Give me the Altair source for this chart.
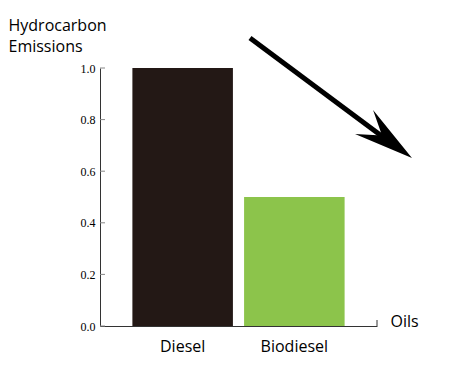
import altair as alt
import pandas as pd

oils = ["Diesel", "Biodiesel"]
emissions = [1.0, 0.5]
bar_colors = ["#231815", "#8CC44B"]
y_ticks = [0.0, 0.2, 0.4, 0.6, 0.8, 1.0]

W, H = 277, 258

bars_df = pd.DataFrame({"oil": oils, "value": emissions})
ticks_df = pd.DataFrame({"t": y_ticks})

bars = alt.Chart(bars_df).mark_bar().encode(
    x=alt.X("oil:N", sort=oils,
            scale=alt.Scale(paddingInner=0.1, paddingOuter=0.29),
            axis=alt.Axis(title="Oils", titleAngle=0, titleAlign="left",
                          titleBaseline="middle", titleX=W + 13, titleY=-5,
                          titleFont="Open Sans", titleFontSize=16, titleFontWeight="normal",
                          titleColor="black",
                          labelAngle=0, labelFont="Open Sans", labelFontSize=16,
                          labelColor="black", labelPadding=12, ticks=False,
                          domainColor="#333333", domainWidth=1)),
    y=alt.Y("value:Q", scale=alt.Scale(domain=[0, 1]),
            axis=alt.Axis(values=y_ticks, format=".1f", ticks=False, grid=False,
                          labelFont="Liberation Serif", labelFontSize=12,
                          labelFontWeight="normal",
                          labelColor="black", labelPadding=5,
                          domainColor="#333333", domainWidth=1,
                          title=["Hydrocarbon", "Emissions"], titleAngle=0,
                          titleAlign="left", titleBaseline="alphabetic",
                          titleX=-92, titleY=-38, titleLineHeight=21,
                          titleFont="Open Sans", titleFontSize=16,
                          titleFontWeight="normal", titleColor="black")),
    color=alt.Color("oil:N", scale=alt.Scale(domain=oils, range=bar_colors), legend=None),
)

inner_ticks = alt.Chart(ticks_df).mark_rule(color="#888888", strokeWidth=1).encode(
    y=alt.Y("t:Q", scale=alt.Scale(domain=[0, 1])),
    x=alt.value(0), x2=alt.value(5),
)

end_tick = alt.Chart(ticks_df.head(1)).mark_rule(color="#333333", strokeWidth=1).encode(
    x=alt.value(W), y=alt.value(H), y2=alt.value(H - 6),
)

arrow_line = alt.Chart(ticks_df.head(1)).mark_rule(color="black", strokeWidth=5).encode(
    x=alt.value(150), y=alt.value(-30), x2=alt.value(287), y2=alt.value(72),
)

arrow_head = alt.Chart(ticks_df.head(1)).mark_point(
    shape="M0,-1 L0.5,1 L0,0.25 L-0.5,1 Z", filled=True, color="black",
    opacity=1, size=3600, angle=127,
).encode(x=alt.value(288), y=alt.value(72))

chart = alt.layer(bars, inner_ticks, end_tick, arrow_line, arrow_head).properties(
    width=W, height=H,
    background="white",
    autosize=alt.AutoSizeParams(type="none"),
    padding={"left": 100, "top": 68, "right": 80, "bottom": 51},
).configure_view(strokeWidth=0, stroke="transparent")

chart.save("out.html", embed_options={"renderer": "svg", "actions": False})
